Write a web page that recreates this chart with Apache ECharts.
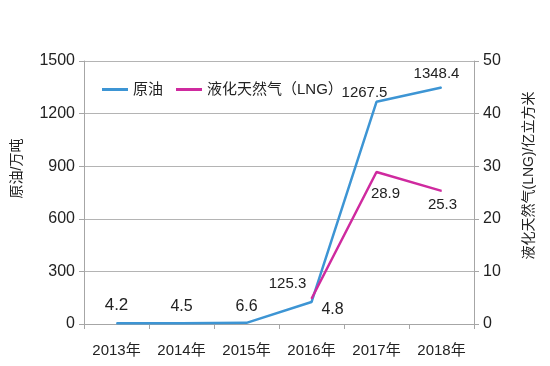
<!DOCTYPE html>
<html><head><meta charset="utf-8">
<script src="https://cdn.jsdelivr.net/npm/echarts@6/dist/echarts.min.js"></script>
<style>html,body{margin:0;padding:0;background:#fff}#c{width:550px;height:366px}</style>
</head><body><div id="c"></div>
<script>
var categories = ['2013年','2014年','2015年','2016年','2017年','2018年'];
var oilValues = [4.2, 4.5, 6.6, 125.3, 1267.5, 1348.4];
var lngValues = [null, null, null, 4.8, 28.9, 25.3];
var leftTicks = [0, 300, 600, 900, 1200, 1500];
var rightTicks = [0, 10, 20, 30, 40, 50];

var font = '"Liberation Sans", Arial, "Noto Sans CJK SC", sans-serif';
var axisGrey = '#a6a6a6';
var richStyles = {
  s: {fontSize: 15, color: '#222', fontFamily: font},
  m: {fontSize: 16, color: '#222', fontFamily: font},
  l: {fontSize: 17, color: '#222', fontFamily: font}
};
var chart = echarts.init(document.getElementById('c'));
chart.setOption({
  animation: false,
  textStyle: {fontFamily: font},
  grid: {left: 84, right: 76, top: 61, bottom: 42, containLabel: false},
  legend: {
    top: 77, left: 97, itemWidth: 26, itemHeight: 3, itemGap: 13,
    icon: 'rect',
    textStyle: {fontSize: 15, color: '#222', fontFamily: font},
    data: ['原油', '液化天然气（LNG）']
  },
  xAxis: {
    type: 'category', data: categories, boundaryGap: true,
    axisLine: {lineStyle: {color: axisGrey, width: 1}},
    axisTick: {show: true, length: 5, lineStyle: {color: axisGrey}},
    axisLabel: {fontSize: 15, color: '#222', margin: 19, fontFamily: font}
  },
  yAxis: [{
    type: 'value', min: leftTicks[0], max: leftTicks[leftTicks.length-1], interval: 300,
    name: '原油/万吨', nameLocation: 'middle', nameRotate: 90, nameGap: 60,
    nameTextStyle: {fontSize: 14, color: '#222', fontFamily: font, padding: [0, 0, 0, 48]},
    axisLine: {show: true, lineStyle: {color: axisGrey}},
    axisTick: {show: true, length: 5, lineStyle: {color: axisGrey}},
    axisLabel: {fontSize: 16, color: '#222', margin: 9, fontFamily: font, formatter: function (v) { return String(v); }},
    splitLine: {show: true, lineStyle: {color: '#b4b4b4', width: 1}}
  }, {
    type: 'value', min: rightTicks[0], max: rightTicks[rightTicks.length-1], interval: 10,
    name: '液化天然气(LNG)/亿立方米', nameLocation: 'middle', nameRotate: 90, nameGap: 48,
    nameTextStyle: {fontSize: 14, color: '#222', fontFamily: font, padding: [0, 0, 0, 34]},
    axisLine: {show: true, lineStyle: {color: axisGrey}},
    axisTick: {show: true, length: 5, lineStyle: {color: axisGrey}},
    axisLabel: {fontSize: 16, color: '#222', margin: 9, fontFamily: font, formatter: function (v) { return String(v); }},
    splitLine: {show: false}
  }],
  series: [{
    name: '原油', type: 'line', yAxisIndex: 0, data: oilValues,
    symbol: 'circle', symbolSize: 1, showSymbol: true,
    lineStyle: {color: '#3d95d4', width: 2.5}, itemStyle: {color: '#3d95d4'},
    label: {show: true, position: 'top', distance: 8, rich: richStyles,
      formatter: function (p) {
        var k = p.dataIndex === 0 ? 'l' : (p.dataIndex < 3 ? 'm' : 's');
        return '{' + k + '|' + p.value + '}';
      }},
    labelLayout: function (p) {
      if (p.dataIndex === 0) return {dy: -1};
      if (p.dataIndex === 3) return {dx: -24, dy: -2};
      if (p.dataIndex === 4) return {dx: -12, dy: 7};
      if (p.dataIndex === 5) return {dx: -5, dy: 2};
      return {};
    }
  }, {
    name: '液化天然气（LNG）', type: 'line', yAxisIndex: 1, data: lngValues,
    symbol: 'circle', symbolSize: 1, showSymbol: true, connectNulls: false,
    lineStyle: {color: '#cf2a9f', width: 2.5}, itemStyle: {color: '#cf2a9f'},
    label: {show: true, position: 'bottom', distance: 12, rich: richStyles,
      formatter: function (p) {
        var k = p.dataIndex === 3 ? 'm' : 's';
        return '{' + k + '|' + p.value + '}';
      }},
    labelLayout: function (p) {
      if (p.dataIndex === 3) return {dx: 21, dy: -10};
      if (p.dataIndex === 4) return {dx: 9, dy: 2};
      if (p.dataIndex === 5) return {dx: 1, dy: -6};
      return {};
    }
  }]
});
</script></body></html>
